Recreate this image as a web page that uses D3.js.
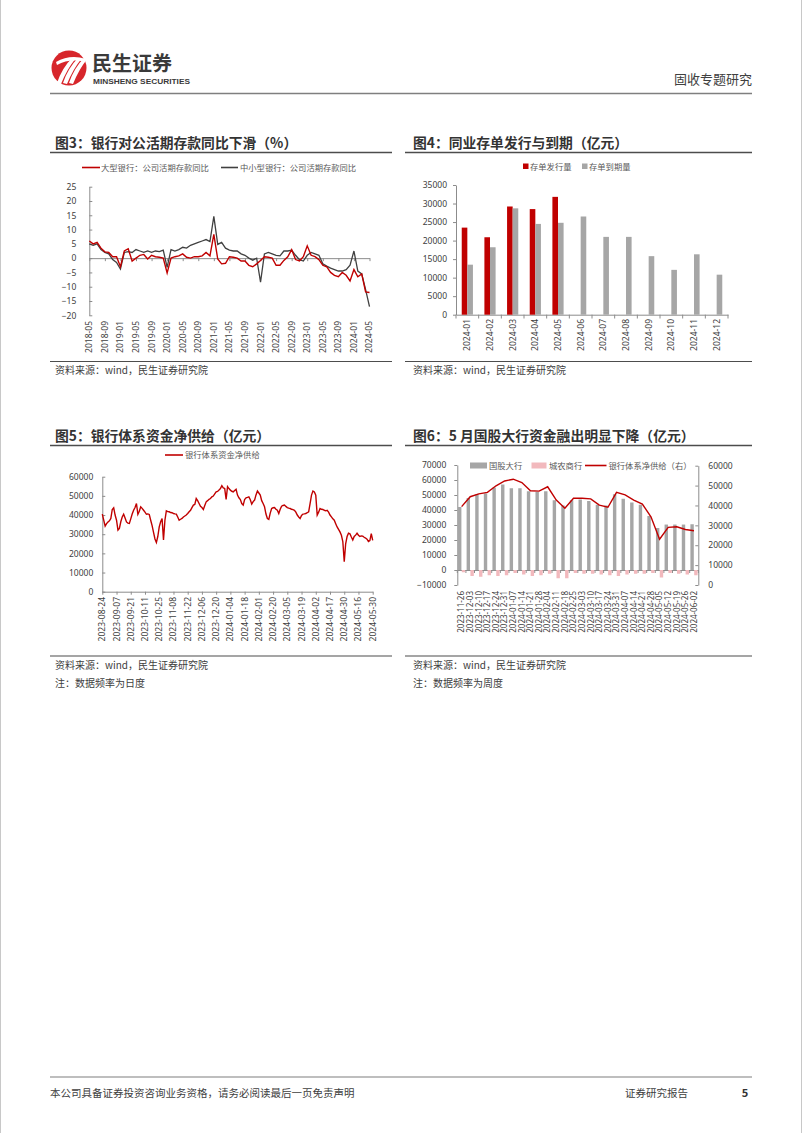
<!DOCTYPE html>
<html><head><meta charset="utf-8">
<script src="https://cdn.jsdelivr.net/npm/d3@7"></script>
<style>
body{margin:0;background:#fff}
svg{display:block;font-family:"Noto Sans CJK SC","Noto Sans",sans-serif}
</style>
</head><body>
<svg id="c" width="802" height="1133"></svg>
<script>
// ---------- Chart 3 data ----------
const c3Ticks = ["2018-05","2018-09","2019-01","2019-05","2019-09","2020-01","2020-05","2020-09","2021-01","2021-05","2021-09","2022-01","2022-05","2022-09","2023-01","2023-05","2023-09","2024-01","2024-05"];
const c3Large = [6.0,5.0,5.5,3.5,2.2,2.0,0.5,0.5,-3.0,2.5,3.3,-1.0,0.0,1.0,1.3,-0.3,1.0,0.5,0.3,0.0,
  -5.2,0.0,0.5,0.8,1.5,0.3,0.0,0.5,0.5,0.8,2.0,0.8,8.3,-0.3,-2.0,-1.8,0.5,0.3,0.0,-1.0,
  -1.0,-2.5,-3.0,-2.0,-0.8,0.5,0.3,0.0,-2.5,-2.5,-0.8,0.5,3.0,-0.5,-1.0,0.5,4.3,1.0,0.5,-0.5,
  -2.5,-3.0,-5.0,-6.0,-6.5,-5.0,-6.0,-8.0,-4.0,-6.5,-5.5,-11.8,-12.0];
const c3Small = [5.0,4.5,5.0,3.0,2.0,1.5,-0.5,-1.5,-3.8,2.0,2.3,2.0,3.0,2.5,2.0,2.5,2.0,2.5,2.3,2.8,
  -3.2,3.0,2.5,3.0,3.8,3.5,4.5,5.0,5.5,6.0,6.5,5.8,14.6,4.8,5.5,3.5,2.8,2.5,2.5,1.5,
  1.0,0.0,-0.7,0.0,-8.4,1.5,2.0,1.5,1.0,0.8,2.5,2.5,2.8,1.0,-0.5,-1.0,1.0,2.0,1.5,1.0,
  -2.0,-2.8,-3.5,-4.0,-4.5,-4.5,-4.0,-2.5,2.5,-4.5,-5.5,-11.0,-17.0];
const c3YTicks = [-20,-15,-10,-5,0,5,10,15,20,25];

// ---------- Chart 4 data ----------
const c4Months = ["2024-01","2024-02","2024-03","2024-04","2024-05","2024-06","2024-07","2024-08","2024-09","2024-10","2024-11","2024-12"];
const c4Issue = [23500,20900,29200,28500,31800,null,null,null,null,null,null,null];
const c4Mature = [13500,18200,28700,24500,24800,26500,21000,21000,15800,12100,16300,10800];
const c4YTicks = [0,5000,10000,15000,20000,25000,30000,35000];

// ---------- Chart 5 data (daily, trading days) ----------
const c5Ticks = ["2023-08-24","2023-09-07","2023-09-21","2023-10-11","2023-10-25","2023-11-08","2023-11-22","2023-12-06","2023-12-20","2024-01-04","2024-01-18","2024-02-01","2024-02-20","2024-03-05","2024-03-19","2024-04-02","2024-04-17","2024-04-30","2024-05-16","2024-05-30"];
const c5Values = [40500,37300,34200,35500,36400,37000,38200,42900,43800,40000,
  37300,32100,33000,36500,39000,40400,38500,36400,35800,35600,
  38000,40500,42500,43900,46000,40400,42000,44300,43500,42500,
  41500,40400,40600,40300,37300,34500,31000,27500,25700,28800,
  33800,36500,38200,27000,37300,42200,41800,41700,41300,41200,
  40800,40600,40500,39000,37300,37800,38200,39000,39500,40000,
  40800,41700,42500,43900,45200,45500,48600,47500,46000,44500,
  43900,42900,45000,46900,47500,48200,48600,49500,49900,51000,
  52100,52300,53000,53800,55300,54200,53900,48100,54800,53800,
  53000,52400,52100,52800,53400,50400,49000,48100,46000,45200,
  48100,49000,49200,49500,48000,45700,47000,47800,50500,52500,
  51500,50400,47500,46000,44300,40500,38200,37700,41000,43400,
  43800,43900,43000,42500,40800,43000,44600,45000,45200,44500,
  43900,43600,43400,43000,42800,42500,41500,40000,39000,38200,
  39800,40500,40600,40800,41200,41700,46000,50400,52500,52000,
  50400,40000,41500,43400,43000,42900,42500,42200,42500,41500,
  40000,39000,38000,37300,35500,33800,32500,31200,29500,26200,
  15700,25000,28800,30500,30200,28500,27000,28800,29500,30500,
  29500,28800,29100,29000,28400,28000,27400,26200,26700,30300,
  26800];
const c5YTicks = [0,10000,20000,30000,40000,50000,60000];

// ---------- Chart 6 data (weekly) ----------
const c6Weeks = ["2023-11-26","2023-12-03","2023-12-10","2023-12-17","2023-12-24","2023-12-31","2024-01-07","2024-01-14","2024-01-21","2024-01-28","2024-02-04","2024-02-11","2024-02-18","2024-02-25","2024-03-03","2024-03-10","2024-03-17","2024-03-24","2024-03-31","2024-04-07","2024-04-14","2024-04-21","2024-04-28","2024-05-05","2024-05-12","2024-05-19","2024-05-26","2024-06-02"];
const c6Big = [42000,48000,50500,51000,55000,57000,54500,54500,52500,52000,52500,46500,43000,46500,47000,46000,43500,43000,50500,47500,45000,43500,36000,28000,30300,30300,30300,30500];
const c6City = [-1500,-4000,-4500,-3500,-4000,-3500,-2000,-3000,-4000,-3500,-2500,-5500,-5500,-2000,-2500,-2500,-3000,-3500,-4000,-3000,-2500,-2500,-2000,-5000,-2000,-2500,-3000,-3500];
const c6Net = [39400,44400,45800,46600,49900,52300,53200,51500,47400,47200,49400,42700,38600,43600,43600,43300,40200,39100,46600,45300,42700,40700,34300,23000,29000,29300,27900,27300];
const c6YLTicks = [-10000,0,10000,20000,30000,40000,50000,60000,70000];
const c6YRTicks = [0,10000,20000,30000,40000,50000,60000];

// ---------- styling ----------
const RED = "#C00000", GRAY = "#A6A6A6", PINK = "#F2B9BD", DARK = "#404040", AXIS = "#8C8C8C", TXT = "#404040";
const fmt = d3.format("d");
const svg = d3.select("#c");
svg.append("rect").attr("x",0).attr("y",0).attr("width",802).attr("height",1133).attr("fill","#fff");
svg.append("line").attr("x1",0.5).attr("x2",0.5).attr("y1",0).attr("y2",1133).attr("stroke","#c8c8c8");
svg.append("line").attr("x1",801.5).attr("x2",801.5).attr("y1",0).attr("y2",1133).attr("stroke","#c8c8c8");

// ---------- header ----------
const logo = svg.append("g");
logo.append("circle").attr("cx",69).attr("cy",68).attr("r",17.5).attr("fill","#D7262B");
[0,6,12].forEach(dx=>{
  logo.append("path").attr("d",`M${57+dx},${83} Q${62+dx},${68} ${72+dx},${58} L${76+dx},${58} Q${67+dx},${69} ${61+dx},${84} Z`).attr("fill","#fff");
});
logo.append("path").attr("d","M56,62 Q70,54 86,59 L85,62 Q70,58 57,65 Z").attr("fill","#fff");
svg.append("text").attr("x",92).attr("y",71).attr("font-size",20).attr("font-weight",700).attr("fill","#3a3a3a").text("民生证券");
svg.append("text").attr("x",93).attr("y",84).attr("font-size",8).attr("font-weight",700).attr("fill","#3a3a3a")
  .attr("textLength",97).attr("lengthAdjust","spacingAndGlyphs").style("font-family","'Liberation Sans Narrow','Liberation Sans',sans-serif").text("MINSHENG SECURITIES");
svg.append("text").attr("x",752).attr("y",84).attr("text-anchor","end").attr("font-size",13).attr("fill",TXT).text("固收专题研究");
svg.append("line").attr("x1",50).attr("x2",752).attr("y1",93.5).attr("y2",93.5).attr("stroke","#7f7f7f").attr("stroke-width",1.5);

// ---------- footer ----------
svg.append("line").attr("x1",50).attr("x2",752).attr("y1",1077).attr("y2",1077).attr("stroke","#7f7f7f").attr("stroke-width",1.2);
svg.append("text").attr("x",50).attr("y",1097).attr("font-size",10.5).attr("fill",TXT).text("本公司具备证券投资咨询业务资格，请务必阅读最后一页免责声明");
svg.append("text").attr("x",625).attr("y",1097).attr("font-size",10.5).attr("fill",TXT).text("证券研究报告");
svg.append("text").attr("x",745).attr("y",1097).attr("text-anchor","middle").attr("font-size",11).attr("font-weight",700).attr("fill","#333").text("5");

// ---------- helpers ----------
function titleBlock(x0, x1, tx, baseline, text){
  svg.append("text").attr("x",tx).attr("y",baseline).attr("font-size",13.8).attr("font-weight",700).attr("fill","#333").text(text);
  svg.append("line").attr("x1",x0).attr("x2",x1).attr("y1",baseline+4.5).attr("y2",baseline+4.5).attr("stroke","#4d4d4d").attr("stroke-width",1.3);
}
function sourceBlock(x0, x1, tx, lineY, notes){
  svg.append("line").attr("x1",x0).attr("x2",x1).attr("y1",lineY).attr("y2",lineY).attr("stroke","#4d4d4d").attr("stroke-width",1.1);
  notes.forEach((t,i)=>svg.append("text").attr("x",tx).attr("y",lineY+12.5+i*18).attr("font-size",10).attr("fill",TXT).text(t));
}
function styleAxis(g, fs){
  g.selectAll("path,line").attr("stroke",AXIS).attr("stroke-width",1);
  g.selectAll("text").attr("fill",TXT).style("font-size",(fs||8.5)+"px").style("font-family","'Noto Sans',sans-serif");
}
function rotLabels(data, xf, top, fs){
  svg.append("g").selectAll("text").data(data).join("text")
    .attr("transform",d=>`translate(${xf(d)},${top}) rotate(-90)`)
    .attr("text-anchor","end").attr("dy","0.35em")
    .attr("font-size",fs).attr("fill",TXT).style("font-family","'Noto Sans',sans-serif")
    .text(d=>d.label);
}

// ================= Chart 3 =================
titleBlock(50, 392, 55, 148, "图3：银行对公活期存款同比下滑（%）");
(function(){
  const x = d3.scaleLinear().domain([0, c3Large.length-1]).range([89.3, 369.5]);
  const y = d3.scaleLinear().domain([-20,25]).range([315.3,186.7]);
  const ya = svg.append("g").attr("transform","translate(89.3,0)")
    .call(d3.axisLeft(y).tickValues(c3YTicks).tickFormat(fmt).tickSize(-3).tickPadding(13).tickSizeOuter(0));
  styleAxis(ya);
  const xa = svg.append("g").attr("transform",`translate(0,${y(0)})`)
    .call(d3.axisBottom(x).tickValues(c3Ticks.map((d,i)=>i*4)).tickSize(3).tickFormat("").tickSizeOuter(0));
  styleAxis(xa);
  rotLabels(c3Ticks.map((d,i)=>({label:d,i:i*4})), d=>x(d.i), 321, 8.5);
  const line = d3.line().x((d,i)=>x(i)).y(d=>y(d));
  svg.append("path").datum(c3Small).attr("d",line).attr("fill","none").attr("stroke",DARK).attr("stroke-width",1.3);
  svg.append("path").datum(c3Large).attr("d",line).attr("fill","none").attr("stroke",RED).attr("stroke-width",1.4);
  const lg = svg.append("g").attr("font-size",8.3).attr("fill","#595959");
  lg.append("line").attr("x1",82).attr("x2",100).attr("y1",167.5).attr("y2",167.5).attr("stroke",RED).attr("stroke-width",1.6);
  lg.append("text").attr("x",101).attr("y",170.5).text("大型银行：公司活期存款同比");
  lg.append("line").attr("x1",221).attr("x2",238).attr("y1",167.5).attr("y2",167.5).attr("stroke",DARK).attr("stroke-width",1.6);
  lg.append("text").attr("x",240).attr("y",170.5).text("中小型银行：公司活期存款同比");
})();
sourceBlock(50, 392, 55, 361.5, ["资料来源：wind，民生证券研究院"]);

// ================= Chart 4 =================
titleBlock(405, 752, 413, 148, "图4：同业存单发行与到期（亿元）");
(function(){
  const x = d3.scaleBand().domain(c4Months).range([456, 728]);
  const y = d3.scaleLinear().domain([0,35000]).range([314.7,185]);
  const ya = svg.append("g").attr("transform","translate(456,0)")
    .call(d3.axisLeft(y).tickValues(c4YTicks).tickFormat(fmt).tickSize(3).tickPadding(6).tickSizeOuter(0));
  styleAxis(ya);
  const xa = svg.append("g").attr("transform","translate(0,314.7)")
    .call(d3.axisBottom(x).tickSize(0).tickFormat(""));
  styleAxis(xa);
  svg.append("g").selectAll("line").data(c4Months.concat(["end"])).join("line")
    .attr("x1",(d,i)=>456+i*x.step()).attr("x2",(d,i)=>456+i*x.step())
    .attr("y1",314.7).attr("y2",318.5).attr("stroke",AXIS);
  const bw = 5.6;
  svg.append("g").selectAll("rect").data(c4Months.map((m,i)=>({m, v:c4Issue[i]})).filter(d=>d.v!=null)).join("rect")
    .attr("x",d=>x(d.m)+x.bandwidth()/2-bw).attr("width",bw)
    .attr("y",d=>y(d.v)).attr("height",d=>y(0)-y(d.v)).attr("fill",RED);
  svg.append("g").selectAll("rect").data(c4Months.map((m,i)=>({m, v:c4Mature[i]}))).join("rect")
    .attr("x",d=>x(d.m)+x.bandwidth()/2).attr("width",bw)
    .attr("y",d=>y(d.v)).attr("height",d=>y(0)-y(d.v)).attr("fill",GRAY);
  rotLabels(c4Months.map(m=>({label:m,m})), d=>x(d.m)+x.bandwidth()/2, 319, 8.5);
  const lg = svg.append("g").attr("font-size",8.3).attr("fill","#595959");
  lg.append("rect").attr("x",523).attr("y",163.5).attr("width",5.5).attr("height",5.5).attr("fill",RED);
  lg.append("text").attr("x",530).attr("y",169.5).text("存单发行量");
  lg.append("rect").attr("x",582).attr("y",163.5).attr("width",5.5).attr("height",5.5).attr("fill",GRAY);
  lg.append("text").attr("x",589).attr("y",169.5).text("存单到期量");
})();
sourceBlock(405, 752, 413, 361.5, ["资料来源：wind，民生证券研究院"]);

// ================= Chart 5 =================
titleBlock(50, 392, 55, 441, "图5：银行体系资金净供给（亿元）");
(function(){
  const x = d3.scaleLinear().domain([0, c5Values.length-1]).range([102.3, 372.7]);
  const y = d3.scaleLinear().domain([0,60000]).range([591.7,476.7]);
  const ya = svg.append("g").attr("transform","translate(102.3,0)")
    .call(d3.axisLeft(y).tickValues(c5YTicks).tickFormat(fmt).tickSize(-3).tickPadding(9).tickSizeOuter(0));
  styleAxis(ya);
  const xa = svg.append("g").attr("transform","translate(0,591.7)")
    .call(d3.axisBottom(x).tickValues(c5Ticks.map((d,i)=>i*10)).tickSize(3).tickFormat("").tickSizeOuter(0));
  styleAxis(xa);
  rotLabels(c5Ticks.map((d,i)=>({label:d,i:i*10})), d=>x(d.i), 597, 8.5);
  const line = d3.line().x((d,i)=>x(i)).y(d=>y(d));
  svg.append("path").datum(c5Values).attr("d",line).attr("fill","none").attr("stroke",RED).attr("stroke-width",1.4);
  const lg = svg.append("g").attr("font-size",8.3).attr("fill","#595959");
  lg.append("line").attr("x1",165).attr("x2",183).attr("y1",455).attr("y2",455).attr("stroke",RED).attr("stroke-width",1.6);
  lg.append("text").attr("x",185).attr("y",458).text("银行体系资金净供给");
})();
sourceBlock(50, 392, 55, 656, ["资料来源：wind，民生证券研究院","注：数据频率为日度"]);

// ================= Chart 6 =================
titleBlock(405, 752, 413, 441, "图6：5 月国股大行资金融出明显下降（亿元）");
(function(){
  const x = d3.scaleBand().domain(c6Weeks).range([457.3, 698.3]);
  const yL = d3.scaleLinear().domain([-10000,70000]).range([585,465]);
  const yR = d3.scaleLinear().domain([0,60000]).range([585,465.7]);
  const ya = svg.append("g").attr("transform","translate(457.3,0)")
    .call(d3.axisLeft(yL).tickValues(c6YLTicks).tickFormat(fmt).tickSize(3).tickPadding(8).tickSizeOuter(0));
  styleAxis(ya);
  const yb = svg.append("g").attr("transform","translate(698.3,0)")
    .call(d3.axisRight(yR).tickValues(c6YRTicks).tickFormat(fmt).tickSize(-3).tickPadding(10).tickSizeOuter(0));
  styleAxis(yb);
  const xa = svg.append("g").attr("transform",`translate(0,${yL(0)})`)
    .call(d3.axisBottom(x).tickSize(0).tickFormat(""));
  styleAxis(xa);
  svg.append("g").selectAll("line").data(c6Weeks.concat(["end"])).join("line")
    .attr("x1",(d,i)=>457.3+i*x.step()).attr("x2",(d,i)=>457.3+i*x.step())
    .attr("y1",yL(0)).attr("y2",yL(0)+3).attr("stroke",AXIS);
  const bw = 3.4;
  svg.append("g").selectAll("rect").data(c6Weeks.map((w,i)=>({w,v:c6Big[i]}))).join("rect")
    .attr("x",d=>x(d.w)+x.bandwidth()/2-bw-0.2).attr("width",bw)
    .attr("y",d=>yL(d.v)).attr("height",d=>yL(0)-yL(d.v)).attr("fill",GRAY);
  svg.append("g").selectAll("rect").data(c6Weeks.map((w,i)=>({w,v:c6City[i]}))).join("rect")
    .attr("x",d=>x(d.w)+x.bandwidth()/2+0.2).attr("width",bw)
    .attr("y",d=>yL(0)).attr("height",d=>yL(d.v)-yL(0)).attr("fill",PINK);
  const line = d3.line().x((d,i)=>x(c6Weeks[i])+x.bandwidth()/2).y(d=>yR(d));
  svg.append("path").datum(c6Net).attr("d",line).attr("fill","none").attr("stroke",RED).attr("stroke-width",1.4);
  rotLabels(c6Weeks.map(w=>({label:w,w})), d=>x(d.w)+x.bandwidth()/2, 591, 8);
  const lg = svg.append("g").attr("font-size",8.3).attr("fill","#595959");
  lg.append("rect").attr("x",470).attr("y",462.5).attr("width",17).attr("height",6).attr("fill",GRAY);
  lg.append("text").attr("x",489).attr("y",468.5).text("国股大行");
  lg.append("rect").attr("x",531.5).attr("y",462.5).attr("width",15).attr("height",6).attr("fill",PINK);
  lg.append("text").attr("x",549).attr("y",468.5).text("城农商行");
  lg.append("line").attr("x1",585).attr("x2",606.5).attr("y1",465.5).attr("y2",465.5).attr("stroke",RED).attr("stroke-width",1.6);
  lg.append("text").attr("x",608.5).attr("y",468.5).text("银行体系净供给（右）");
})();
sourceBlock(405, 752, 413, 656, ["资料来源：wind，民生证券研究院","注：数据频率为周度"]);
</script>
</body></html>
